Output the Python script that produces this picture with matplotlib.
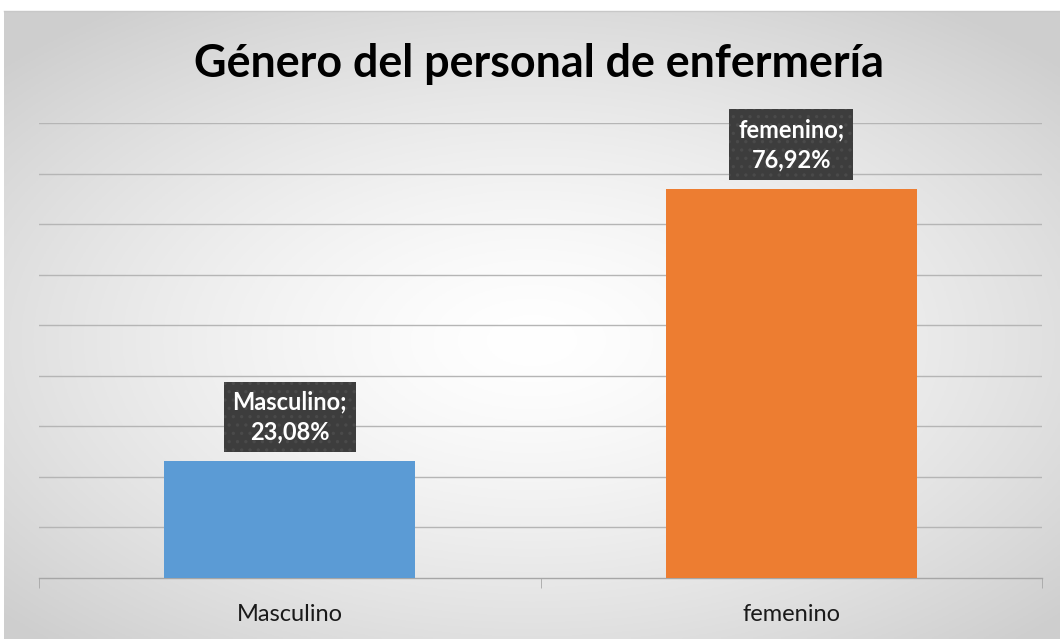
import numpy as np
import matplotlib
matplotlib.use("Agg")
import matplotlib.pyplot as plt

categories = ["Masculino", "femenino"]
values = [23.08, 76.92]
label_texts = ["Masculino;\n23,08%", "femenino;\n76,92%"]
colors = ["#5B9BD5", "#ED7D31"]
title = "Género del personal de enfermería"

W, H = 1060, 639
fig = plt.figure(figsize=(W / 100, H / 100), dpi=100)
fig.patch.set_facecolor("white")
plt.rcParams["hatch.linewidth"] = 1.2

# background radial gradient
bg = fig.add_axes([4 / W, 0, 1 - 4 / W, 1 - 11 / H], zorder=-5)
nx, ny = 400, 240
xx, yy = np.meshgrid(np.linspace(-1, 1, nx), np.linspace(-1, 1, ny))
r = np.sqrt((xx / 1.05) ** 2 + ((yy + 0.05) / 1.0) ** 2)
r = np.clip(r, 0, 1.3) / 1.3
shade = 1.0 - 0.19 * r ** 1.4
img = np.dstack([shade, shade, shade])
bg.imshow(img, extent=[0, 1, 0, 1], aspect="auto", origin="lower")
bg.set_axis_off()
bg.plot([0, 1], [1, 1], color="#c8c8c8", lw=1, transform=bg.transAxes, clip_on=False)

# main axes
y0, ytop = 578, 123
ax = fig.add_axes([39 / W, (H - y0) / H, (1042 - 39) / W, (y0 - ytop) / H])
ax.patch.set_alpha(0)
ax.set_ylim(0, 90)
ax.set_xlim(-0.5, 1.5)
ax.set_yticks(np.arange(10, 91, 10))
ax.yaxis.grid(True, color="#b5b5b5", lw=1)
ax.set_axisbelow(True)
ax.tick_params(axis="y", length=0, labelleft=False)
for s in ["top", "right", "left"]:
    ax.spines[s].set_visible(False)
ax.spines["bottom"].set_color("#a6a6a6")
ax.spines["bottom"].set_linewidth(1)

x = np.arange(len(categories))
ax.bar(x, values, width=0.5, color=colors, zorder=3)

ax.set_xticks(x)
ax.set_xticklabels(categories, fontsize=17, family="Lato", color="#1a1a1a")
ax.tick_params(axis="x", length=0, pad=19)
ax.set_xticks([-0.5, 0.5, 1.5], minor=True)
ax.tick_params(axis="x", which="minor", length=7, color="#a6a6a6", direction="out")

for xi, v, t in zip(x, values, label_texts):
    ax.annotate(t, (xi, v), xytext=(0, 13), textcoords="offset points",
                ha="center", va="bottom", fontsize=17, fontweight="bold",
                family="Lato", color="white", linespacing=1.35, zorder=6,
                bbox=dict(boxstyle="square,pad=0.38", fc="#3d3d3d",
                          ec="#4a4a4a", lw=0, hatch=".."))

fig.text(538.5 / W, 1 - 64 / H, title, ha="center", va="center", fontsize=32.3,
         fontweight="bold", family="Lato", color="black")

fig.savefig("out.png", dpi=100)
